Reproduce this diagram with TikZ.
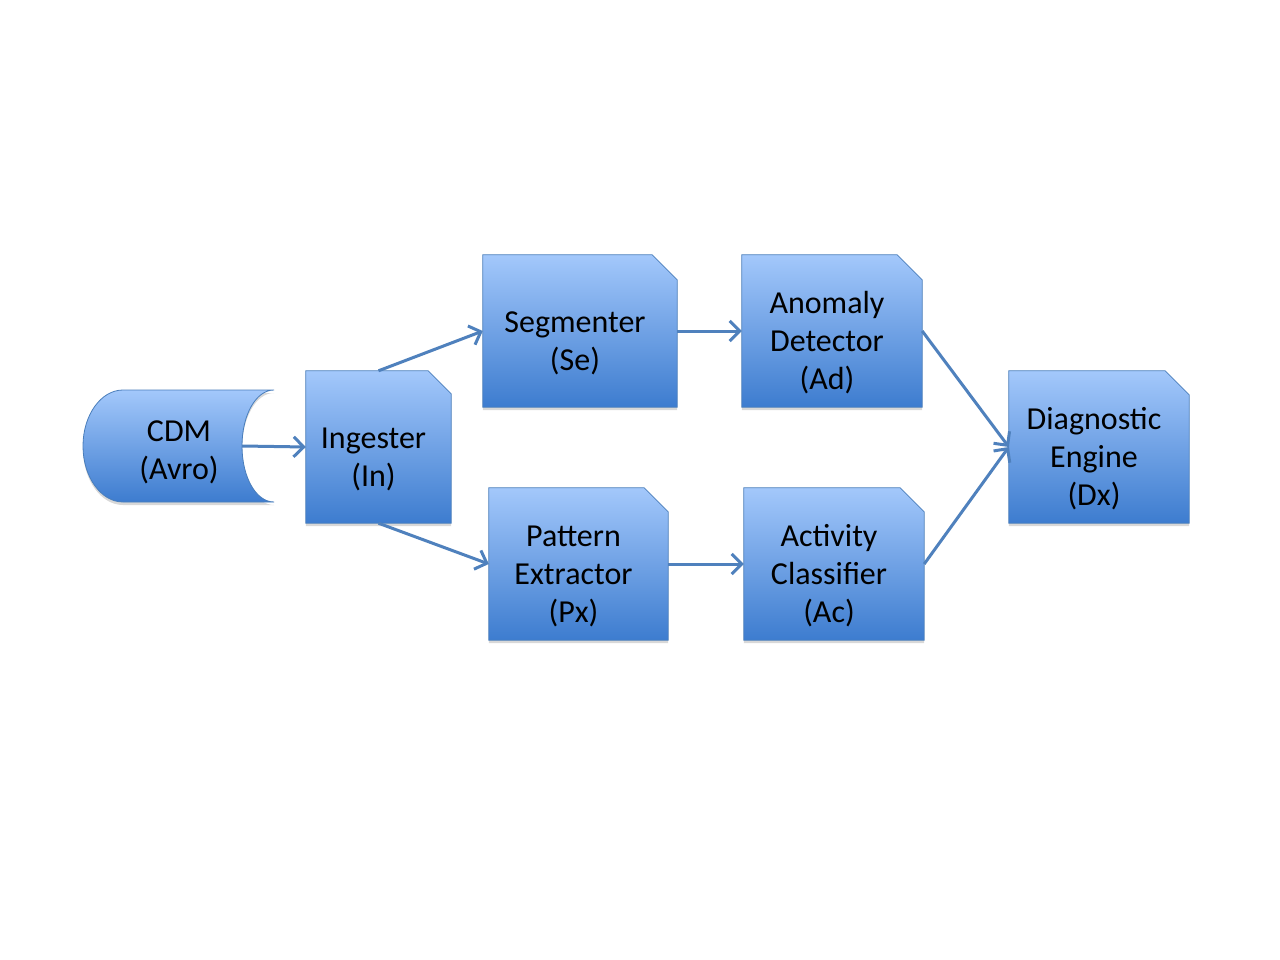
\documentclass[tikz,border=0pt]{standalone}
\usepackage{fontspec}
\setmainfont{Carlito}
\usetikzlibrary{arrows.meta,shadows,backgrounds}
\definecolor{gtop}{HTML}{A3C8FB}
\definecolor{gbot}{HTML}{3D7CCF}
\definecolor{edgeblue}{HTML}{4A7EBB}
\definecolor{arrblue}{HTML}{4F81BD}
\newcommand\bxt[3]{\raisebox{#2}[0pt][0pt]{\makebox[0pt]{\hspace*{#1}\begin{tabular}{@{}c@{}}#3\end{tabular}}}}
\newcommand\snipbox[2]{\path[shp] (#1.south west) -- (#1.north west) -- ([xshift=-#2]#1.north east) -- ([yshift=-#2]#1.north east) -- (#1.south east) -- cycle;}
\begin{document}
\begin{tikzpicture}[x=1pt,y=-1pt,
  blk/.style={minimum height=152pt, inner sep=0pt, font=\fontsize{32}{38}\selectfont},
  shp/.style={top color=gtop, bottom color=gbot, draw=edgeblue, line width=0.8pt,
    drop shadow={shadow xshift=0pt, shadow yshift=-3pt, opacity=0.3}},
  flow/.style={draw=arrblue, line width=3pt, -{Straight Barb[length=10pt,width=20pt]}}]
\useasboundingbox (0,0) rectangle (1280,960);
\node[blk, minimum width=126pt, minimum height=112pt] (cdm) at (179,446) {\bxt{0pt}{-13pt}{CDM\\(Avro)}};
\node[blk, minimum width=145pt] (in) at (378.5,447) {\bxt{-10pt}{-19pt}{Ingester\\(In)}};
\node[blk, minimum width=194pt] (se) at (580,331) {\bxt{-10pt}{-19pt}{Segmenter\\(Se)}};
\node[blk, minimum width=180pt] (ad) at (832,331) {\bxt{-10pt}{-19pt}{Anomaly\\Detector\\(Ad)}};
\node[blk, minimum width=179pt] (px) at (578.5,564) {\bxt{-10pt}{-19pt}{Pattern\\Extractor\\(Px)}};
\node[blk, minimum width=180pt] (ac) at (834,564) {\bxt{-10pt}{-19pt}{Activity\\Classifier\\(Ac)}};
\node[blk, minimum width=180pt] (dx) at (1099,447) {\bxt{-10pt}{-19pt}{Diagnostic\\Engine\\(Dx)}};
\begin{scope}[on background layer]
  \fill[white] (0,0) rectangle (1280,960);
  \path[shp] (123,390) -- (274,390)
    .. controls (256,390) and (242,415) .. (242,446)
    .. controls (242,477) and (256,502) .. (274,502)
    -- (123,502)
    .. controls (101,502) and (83,477) .. (83,446)
    .. controls (83,415) and (101,390) .. (123,390) -- cycle;
  \snipbox{in}{23pt}
  \snipbox{se}{25pt}
  \snipbox{ad}{25pt}
  \snipbox{px}{24pt}
  \snipbox{ac}{24pt}
  \snipbox{dx}{24pt}
\end{scope}
\draw[flow] (cdm.east) -- (in.west);
\draw[flow] (in.north) -- (se.west);
\draw[flow] (in.south) -- (px.west);
\draw[flow] (se.east) -- (ad.west);
\draw[flow] (px.east) -- (ac.west);
\draw[flow] (ad.east) -- (dx.west);
\draw[flow] (ac.east) -- (dx.west);
\end{tikzpicture}
\end{document}
